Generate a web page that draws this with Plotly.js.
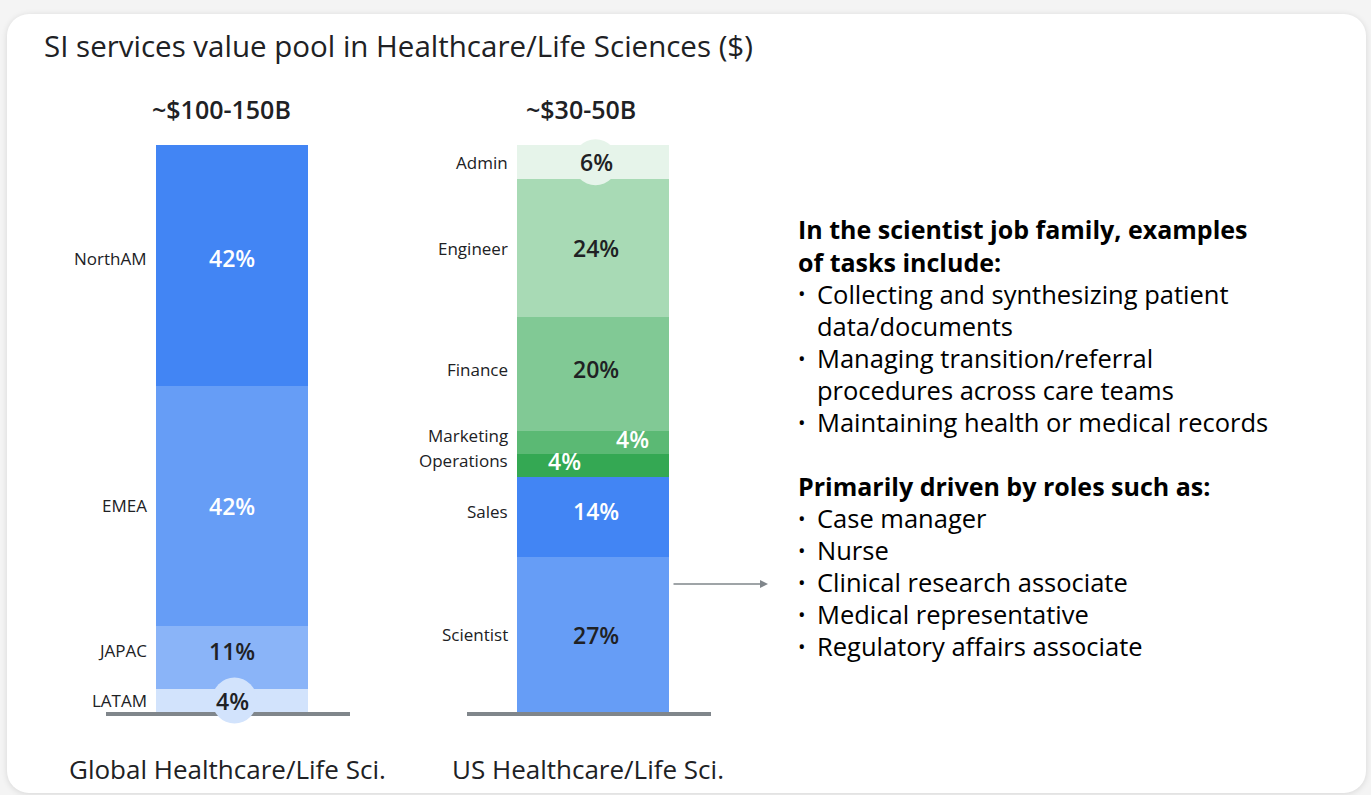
<!DOCTYPE html>
<html>
<head>
<meta charset="utf-8">
<script src="https://cdn.plot.ly/plotly-3.0.1.min.js"></script>
<style>
  html, body { margin: 0; padding: 0; background: #f4f4f4; width: 1371px; height: 795px; overflow: hidden; }
  #card { position: absolute; left: 7px; top: 14px; width: 1359px; height: 779px; background: #ffffff;
          border-radius: 22px; box-shadow: 0 1px 6px rgba(0,0,0,0.12); }
  #chart { position: absolute; left: 0; top: 0; width: 1371px; height: 795px; }
</style>
</head>
<body>
<div id="card"></div>
<div id="chart"></div>
<script>
// ---------------- DATA ----------------
const columns = ["Global Healthcare/Life Sci.", "US Healthcare/Life Sci."];
const totals = ["~$100-150B", "~$30-50B"];

// stacked from bottom to top
const globalSegments = ["LATAM", "JAPAC", "EMEA", "NorthAM"];
const globalValues = [4, 11, 42, 42];
const globalColors = ["#d2e3fc", "#8ab4f8", "#669df6", "#4285f4"];
const globalTextColors = ["#202124", "#202124", "#ffffff", "#ffffff"];

const usSegments = ["Scientist", "Sales", "Operations", "Marketing", "Finance", "Engineer", "Admin"];
const usValues = [27, 14, 4, 4, 20, 24, 6];
const usColors = ["#669df6", "#4285f4", "#34a853", "#5bb974", "#81c995", "#a8dab5", "#e6f4ea"];
const usTextColors = ["#202124", "#ffffff", "#ffffff", "#ffffff", "#202124", "#202124", "#202124"];

const sideHeading1 = ["In the scientist job family, examples", "of tasks include:"];
const sideBullets1 = [["Collecting and synthesizing patient", "data/documents"],
                      ["Managing transition/referral", "procedures across care teams"],
                      ["Maintaining health or medical records"]];
const sideHeading2 = ["Primarily driven by roles such as:"];
const sideBullets2 = [["Case manager"], ["Nurse"], ["Clinical research associate"],
                      ["Medical representative"], ["Regulatory affairs associate"]];

// ---------------- LAYOUT HELPERS ----------------
const W = 1371, H = 795;
const FONT = "'Open Sans', 'Noto Sans', sans-serif";
const px = x => x / W;
const py = y => 1 - y / H;
const catSpacingPx = 361;            // distance between column centres
const firstCenterPx = 232;
const barWidthPx = 152;
const basePx = 712, topPx = 145;
const unitPx = (basePx - topPx) / 99;

const xr0 = -firstCenterPx / catSpacingPx;
const xr1 = (W - firstCenterPx) / catSpacingPx;
const yr0 = -(H - basePx) / unitPx;
const yr1 = basePx / unitPx;

const traces = [];
const annotations = [];
const shapes = [];

const labelShift = { Marketing: 7, Operations: 5, NorthAM: 7, JAPAC: 7, Sales: 6, Finance: 5 };

function addColumn(colIdx, names, values, colors, textColors) {
  let cum = 0;
  names.forEach((n, i) => {
    traces.push({
      type: "bar", x: [colIdx], y: [values[i]], name: n,
      marker: { color: colors[i], line: { width: 0 } },
      width: barWidthPx / catSpacingPx, hoverinfo: "skip", showlegend: false
    });
    const mid = cum + values[i] / 2;
    cum += values[i];
    const ls = labelShift[n] || 0;
    // category label
    annotations.push({
      x: colIdx, y: mid, xref: "x", yref: "y", text: n, showarrow: false,
      xanchor: "right", yanchor: "middle", xshift: -(barWidthPx / 2 + 7), yshift: ls,
      font: { family: FONT, size: 17, color: "#202124" }
    });
    // percentage label
    let xs = 3, ys = ls;
    if (n === "Marketing") { xs = 39; ys = 4; }
    if (n === "Operations") { xs = -29; ys = 5; }
    if (colIdx === 0) xs = 0;
    annotations.push({
      x: colIdx, y: mid, xref: "x", yref: "y", text: values[i] + "%", showarrow: false,
      xanchor: "center", yanchor: "middle", xshift: xs, yshift: ys,
      font: { family: FONT, size: 23, color: textColors[i], weight: 600 }
    });
    // halo circle for thin segments with dark text
    if (values[i] <= 6 && textColors[i] !== "#ffffff") {
      shapes.push({
        type: "circle", xref: "x", yref: "y", xsizemode: "pixel", ysizemode: "pixel",
        xanchor: colIdx, yanchor: mid, x0: -20, x1: 25, y0: -23, y1: 23,
        fillcolor: colors[i], line: { width: 0 }, layer: "above"
      });
    }
  });
  // baseline
  shapes.unshift({
    type: "rect", xref: "x", yref: "y", xsizemode: "pixel", ysizemode: "pixel",
    xanchor: colIdx, yanchor: 0, x0: -126, x1: 118, y0: -4, y1: 0,
    fillcolor: "#80868b", line: { width: 0 }, layer: "above"
  });
  // total on top
  annotations.push({
    x: colIdx, y: cum, xref: "x", yref: "y", text: totals[colIdx], showarrow: false,
    xanchor: "center", yanchor: "middle", xshift: colIdx === 0 ? -11 : -12, yshift: 36,
    font: { family: FONT, size: 25, color: "#202124", weight: 600 }
  });
  // column caption
  annotations.push({
    x: colIdx, y: 0, xref: "x", yref: "y", text: columns[colIdx], showarrow: false,
    xanchor: "center", yanchor: "middle", xshift: -5, yshift: -57,
    font: { family: FONT, size: 26, color: "#202124", weight: 500 }
  });
}

addColumn(0, globalSegments, globalValues, globalColors, globalTextColors);
addColumn(1, usSegments, usValues, usColors, usTextColors);

// title
annotations.push({
  x: px(42), y: py(46), xref: "paper", yref: "paper", text: "SI services value pool in Healthcare/Life Sciences ($)",
  showarrow: false, xanchor: "left", yanchor: "middle",
  font: { family: FONT, size: 29.5, color: "#202124", weight: 500 }
});

// side text
let yLine = 229;
const lineGap = 32;
function addHeading(lines) {
  lines.forEach(l => {
    annotations.push({ x: px(796), y: py(yLine), xref: "paper", yref: "paper", text: l, showarrow: false,
      xanchor: "left", yanchor: "middle", font: { family: FONT, size: 25, color: "#000000", weight: 700 } });
    yLine += 33;
  });
}
function addBullets(items) {
  items.forEach(item => {
    annotations.push({ x: px(796), y: py(yLine), xref: "paper", yref: "paper", text: "•", showarrow: false,
      xanchor: "left", yanchor: "middle", font: { family: FONT, size: 20, color: "#000000" } });
    item.forEach(l => {
      annotations.push({ x: px(815), y: py(yLine), xref: "paper", yref: "paper", text: l, showarrow: false,
        xanchor: "left", yanchor: "middle", font: { family: FONT, size: 25.5, color: "#000000" } });
      yLine += lineGap;
    });
  });
}
addHeading(sideHeading1);
yLine = 294;
addBullets(sideBullets1);
yLine = 486;
addHeading(sideHeading2);
yLine = 518;
addBullets(sideBullets2);

// arrow from scientist segment to the side text
annotations.push({
  x: px(768), y: py(584), ax: px(672), ay: py(584), xref: "paper", yref: "paper", axref: "paper", ayref: "paper",
  text: "", showarrow: true, arrowhead: 2, arrowsize: 1, arrowwidth: 1.6, arrowcolor: "#80868b"
});

const layout = {
  width: W, height: H,
  margin: { l: 0, r: 0, t: 0, b: 0 },
  paper_bgcolor: "rgba(0,0,0,0)", plot_bgcolor: "rgba(0,0,0,0)",
  barmode: "stack", bargap: 0,
  xaxis: { range: [xr0, xr1], visible: false, fixedrange: true },
  yaxis: { range: [yr0, yr1], visible: false, fixedrange: true },
  showlegend: false,
  annotations: annotations,
  shapes: shapes,
  font: { family: FONT }
};

Plotly.newPlot("chart", traces, layout, { staticPlot: true, displayModeBar: false });
</script>
</body>
</html>
